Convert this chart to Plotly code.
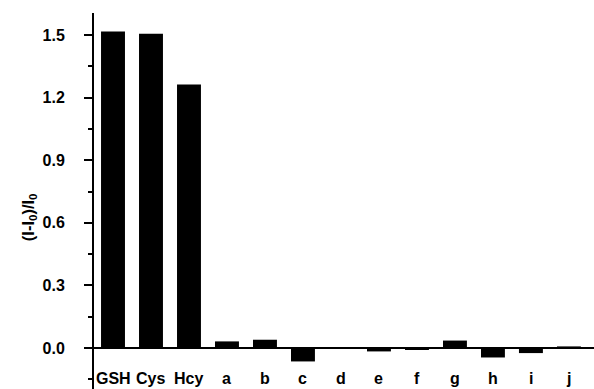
import plotly.graph_objects as go

categories = ["GSH", "Cys", "Hcy", "a", "b", "c", "d", "e", "f", "g", "h", "i", "j"]
values = [1.516, 1.506, 1.263, 0.032, 0.040, -0.064, 0.002, -0.016, -0.007, 0.036, -0.045, -0.024, 0.008]
y_ticks = [0.0, 0.3, 0.6, 0.9, 1.2, 1.5]

FONT = "Liberation Sans, Arial, sans-serif"

fig = go.Figure()
fig.add_trace(go.Bar(
    x=list(range(len(categories))), y=values, width=0.63,
    marker=dict(color="black", line=dict(width=0)),
))

for i, c in enumerate(categories):
    fig.add_annotation(x=i, y=-0.145, xref="x", yref="y", text=c, showarrow=False,
                       xanchor="center", yanchor="middle",
                       font=dict(family=FONT, size=16, color="black", weight="bold"))

fig.add_annotation(x=-0.13, y=0.457, xref="paper", yref="paper",
                   text="(I-I<sub>0</sub>)/I<sub>0</sub>", textangle=-90, showarrow=False,
                   xanchor="center", yanchor="middle",
                   font=dict(family=FONT, size=16.5, color="black", weight="bold"))

fig.update_layout(
    width=594, height=389,
    margin=dict(l=94, r=0, t=13, b=0),
    plot_bgcolor="white", paper_bgcolor="white",
    showlegend=False,
    xaxis=dict(range=[-0.5, 12.66], showline=False, showticklabels=False,
               showgrid=False, zeroline=False, ticks=""),
    yaxis=dict(range=[-0.196, 1.605], showline=True, linecolor="black", linewidth=2,
               tickvals=y_ticks, ticktext=[f"{v:.1f}" for v in y_ticks],
               ticks="outside", ticklen=8, tickwidth=2, tickcolor="black",
               minor=dict(dtick=0.15, tick0=0, ticks="outside", ticklen=4,
                          tickwidth=2, tickcolor="black", showgrid=False),
               showgrid=False, zeroline=True, zerolinecolor="black", zerolinewidth=2,
               ticklabelstandoff=16,
               tickfont=dict(family=FONT, size=16, color="black", weight="bold")),
)

fig.write_html("out.html")
